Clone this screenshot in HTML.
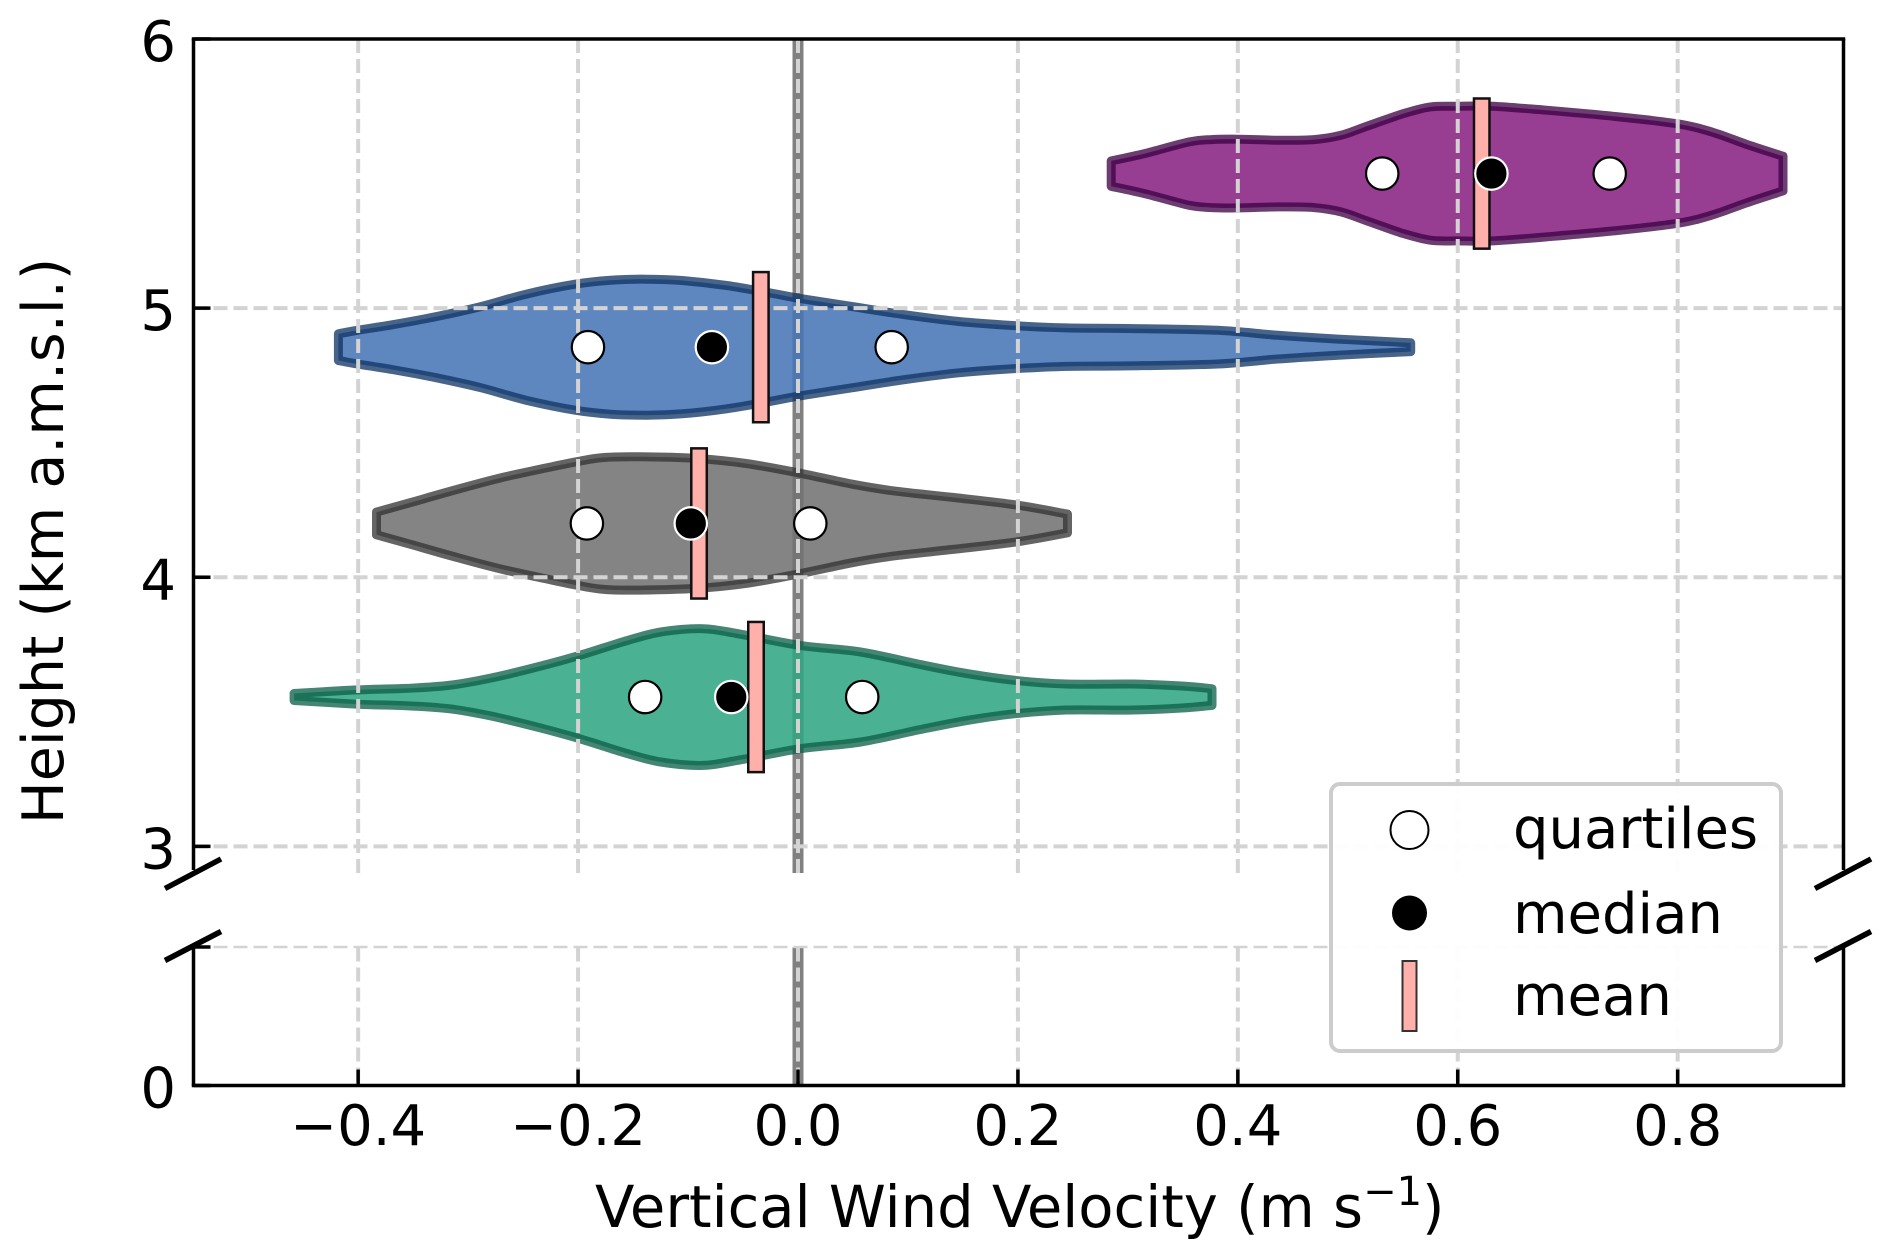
<!DOCTYPE html>
<html lang="en">
<head>
<meta charset="utf-8">
<title>Vertical Wind Velocity Violin Chart</title>
<style>
  html, body { margin: 0; padding: 0; background: #fff; }
  body { width: 1892px; height: 1258px; overflow: hidden; }
  svg { display: block; }
  text { font-family: "DejaVu Sans", "Liberation Sans", sans-serif; fill: #000; }
</style>
</head>
<body>
<svg id="chart" xmlns="http://www.w3.org/2000/svg" width="1892" height="1258" viewBox="0 0 1892 1258">
  <rect x="0" y="0" width="1892" height="1258" fill="#ffffff"/>
  <g id="zero-layer"></g>
  <g id="violin-layer"></g>
  <g id="grid-layer"></g>
  <g id="marker-layer"></g>
  <g id="axis-layer"></g>
  <text x="595" y="1227" font-size="57.6">Vertical Wind Velocity (m s<tspan font-size="40" dy="-22">−1</tspan><tspan dy="22">)</tspan></text>
  <text transform="translate(63 541) rotate(-90)" text-anchor="middle" font-size="57">Height (km a.m.s.l.)</text>
  <g>
    <rect x="1331" y="784" width="450" height="267" rx="9" ry="9" fill="#ffffff" fill-opacity="0.94" stroke="#cccccc" stroke-width="4"/>
    <circle cx="1409.5" cy="830" r="19" fill="#ffffff" stroke="#000000" stroke-width="2"/>
    <circle cx="1409.5" cy="913" r="17.5" fill="#000000"/>
    <rect x="1402.5" y="961" width="14" height="70" fill="#ffb0aa" stroke="#333333" stroke-width="2"/>
    <text x="1513" y="848" font-size="56">quartiles</text>
    <text x="1513" y="933" font-size="56">median</text>
    <text x="1513" y="1015" font-size="56">mean</text>
  </g>
</svg>
<script>
// ----- Tick data -----
const xTicks = [-0.4, -0.2, 0.0, 0.2, 0.4, 0.6, 0.8];
const xTickLabels = ["−0.4", "−0.2", "0.0", "0.2", "0.4", "0.6", "0.8"];
const yTicksUpper = [3, 4, 5, 6];
const yTickLabelsUpper = ["3", "4", "5", "6"];
const yTicksLower = [0, 1];
const yTickLabelsLower = ["0", ""];

// ----- Violin names and centre heights (km) -----
const violinNames = ["purple", "blue", "gray", "green"];
const violinHeights = [5.5, 4.855, 4.2, 3.555];

// ----- Violin profiles: velocity (m/s) and half-width (km) -----
const purpleVelocity = [0.2848, 0.3152, 0.3559, 0.3761, 0.4005, 0.4371, 0.4695, 0.4938, 0.5183, 0.5507, 0.5751, 0.5995, 0.6319, 0.6806, 0.7415, 0.7984, 0.8308, 0.8633, 0.8958];
const purpleHalfWidth = [0.0471, 0.0743, 0.1177, 0.1263, 0.1276, 0.1239, 0.1263, 0.1424, 0.1771, 0.2229, 0.2477, 0.2502, 0.2502, 0.2353, 0.213, 0.1858, 0.1548, 0.1078, 0.0644];

const blueVelocity = [-0.418, -0.4017, -0.3692, -0.3287, -0.288, -0.2474, -0.2028, -0.1703, -0.1379, -0.1054, -0.0648, -0.0242, 0.0002, 0.0489, 0.0977, 0.1464, 0.1951, 0.2444, 0.2993, 0.3815, 0.4364, 0.4912, 0.5572];
const blueHalfWidth = [0.0495, 0.0619, 0.083, 0.1139, 0.1511, 0.1969, 0.2341, 0.2489, 0.2527, 0.2477, 0.2291, 0.2006, 0.1821, 0.1511, 0.1201, 0.0954, 0.0805, 0.0715, 0.0695, 0.0625, 0.044, 0.03, 0.0164];

const grayVelocity = [-0.3833, -0.352, -0.3103, -0.2686, -0.2267, -0.2017, -0.1766, -0.1432, -0.0931, -0.0472, 0.0029, 0.0488, 0.0864, 0.1407, 0.1992, 0.2451];
const grayHalfWidth = [0.0421, 0.078, 0.1263, 0.1709, 0.2081, 0.2291, 0.2452, 0.2477, 0.2415, 0.2229, 0.1858, 0.1461, 0.1214, 0.0966, 0.0681, 0.0347];

const greenVelocity = [-0.4583, -0.4004, -0.3563, -0.3177, -0.2792, -0.2351, -0.1965, -0.158, -0.1249, -0.0864, -0.0533, 0.0018, 0.0569, 0.112, 0.1561, 0.2002, 0.2442, 0.3048, 0.3489, 0.3765];
const greenHalfWidth = [0.013, 0.0266, 0.0322, 0.0433, 0.0706, 0.1139, 0.1573, 0.2068, 0.2415, 0.2539, 0.2341, 0.192, 0.1672, 0.1201, 0.0855, 0.0607, 0.0483, 0.0483, 0.0409, 0.031];

// ----- Summary statistics, one entry per violin -----
const lowerQuartiles = [0.5313, -0.191, -0.192, -0.139];
const medians = [0.6306, -0.0783, -0.0975, -0.0607];
const upperQuartiles = [0.7382, 0.0852, 0.0112, 0.0584];
const means = [0.6218, -0.0338, -0.09, -0.0382];

// ----- Axis functions -----
function xScale(v) { return 798 + 1099.6 * v; }
function yScale(h) { return h >= 3 ? 846.4 - 269.13 * (h - 3) : 1085.5 - 138.5 * h; }

const SVGNS = "http://www.w3.org/2000/svg";
function make(tag, attrs, parent) {
  const node = document.createElementNS(SVGNS, tag);
  Object.keys(attrs).forEach(function (k) { node.setAttribute(k, attrs[k]); });
  parent.appendChild(node);
  return node;
}

const zeroLayer = document.getElementById("zero-layer");
const violinLayer = document.getElementById("violin-layer");
const gridLayer = document.getElementById("grid-layer");
const markerLayer = document.getElementById("marker-layer");
const axisLayer = document.getElementById("axis-layer");

const plotLeft = 193.5, plotRight = 1843.5, plotTop = yScale(6), plotBottom = yScale(0);
const upperEnd = 873, lowerStart = 947.5;

// ----- Zero reference line -----
[[plotTop, upperEnd], [lowerStart, plotBottom]].forEach(function (seg) {
  const z = make("line", { x1: xScale(0), x2: xScale(0), y1: seg[0], y2: seg[1], stroke: "#808080", "stroke-width": 11 }, zeroLayer);
  
  
});

// ----- Violins -----
const violinFill = ["#892282", "#4876b6", "#727272", "#31a684"];
const violinEdge = ["#3d0045", "#0f3364", "#333333", "#0b5f47"];
const violinVelocity = [purpleVelocity, blueVelocity, grayVelocity, greenVelocity];
const violinHalfWidth = [purpleHalfWidth, blueHalfWidth, grayHalfWidth, greenHalfWidth];

function smoothSegments(pts) {
  let d = "";
  for (let i = 0; i < pts.length - 1; i++) {
    const p0 = pts[Math.max(i - 1, 0)], p1 = pts[i], p2 = pts[i + 1], p3 = pts[Math.min(i + 2, pts.length - 1)];
    const c1x = p1[0] + (p2[0] - p0[0]) / 6, c1y = p1[1] + (p2[1] - p0[1]) / 6;
    const c2x = p2[0] - (p3[0] - p1[0]) / 6, c2y = p2[1] - (p3[1] - p1[1]) / 6;
    d += " C" + c1x.toFixed(1) + " " + c1y.toFixed(1) + " " + c2x.toFixed(1) + " " + c2y.toFixed(1) + " " + p2[0].toFixed(1) + " " + p2[1].toFixed(1);
  }
  return d;
}

violinNames.forEach(function (name, i) {
  const c = violinHeights[i];
  const top = violinVelocity[i].map(function (v, j) { return [xScale(v), yScale(c + violinHalfWidth[i][j])]; });
  const bottom = violinVelocity[i].map(function (v, j) { return [xScale(v), yScale(c - violinHalfWidth[i][j])]; }).reverse();
  const d = "M" + top[0][0].toFixed(1) + " " + top[0][1].toFixed(1) + smoothSegments(top) +
    " L" + bottom[0][0].toFixed(1) + " " + bottom[0][1].toFixed(1) + smoothSegments(bottom) + " Z";
  const p = make("path", {
    d: d, fill: violinFill[i], "fill-opacity": 0.875,
    stroke: violinEdge[i], "stroke-opacity": 0.76, "stroke-width": 9, "stroke-linejoin": "round"
  }, violinLayer);
  
  
});

// ----- Grid -----
xTicks.forEach(function (t) {
  [[plotTop, upperEnd], [lowerStart, plotBottom]].forEach(function (seg) {
    const g = make("line", { x1: xScale(t), x2: xScale(t), y1: seg[0], y2: seg[1], stroke: "#d3d3d3", "stroke-width": 4, "stroke-dasharray": "14 6" }, gridLayer);
    
    
  });
});
yTicksUpper.concat(yTicksLower).forEach(function (t) {
  if (t === 0 || t === 6) return;
  const g = make("line", { x1: plotLeft, x2: plotRight, y1: yScale(t), y2: yScale(t), stroke: "#d3d3d3", "stroke-width": t === 1 ? 2.5 : 4, "stroke-dasharray": "14 6" }, gridLayer);
  
  
});

// ----- Mean bars, quartiles, medians -----
const meanHalfHeight = 0.279;
const meanBarPixelWidth = 15.5;
violinNames.forEach(function (name, i) {
  const c = violinHeights[i];
  const bar = make("rect", {
    x: xScale(means[i]) - meanBarPixelWidth / 2, y: yScale(c + meanHalfHeight),
    width: meanBarPixelWidth, height: yScale(c - meanHalfHeight) - yScale(c + meanHalfHeight),
    fill: "#ffb0aa", stroke: "#111111", "stroke-width": 2.5
  }, markerLayer);
  
  

  const q1 = make("circle", { cx: xScale(lowerQuartiles[i]), cy: yScale(c), r: 16.2, fill: "#ffffff", stroke: "#000000", "stroke-width": 2.2 }, markerLayer);
  
  

  const q3 = make("circle", { cx: xScale(upperQuartiles[i]), cy: yScale(c), r: 16.2, fill: "#ffffff", stroke: "#000000", "stroke-width": 2.2 }, markerLayer);
  
  

  const med = make("circle", { cx: xScale(medians[i]), cy: yScale(c), r: 16.2, fill: "#000000", stroke: "#ffffff", "stroke-width": 2.2 }, markerLayer);
  
  
});

// ----- Spines -----
const spineTop = make("line", { x1: plotLeft - 1.75, x2: plotRight + 1.75, y1: plotTop, y2: plotTop, stroke: "#000", "stroke-width": 3.5 }, axisLayer);



const spineBottom = make("line", { x1: plotLeft - 1.75, x2: plotRight + 1.75, y1: plotBottom, y2: plotBottom, stroke: "#000", "stroke-width": 3.5 }, axisLayer);



[plotLeft, plotRight].forEach(function (x) {
  const upper = make("line", { x1: x, x2: x, y1: plotTop, y2: 870, stroke: "#000", "stroke-width": 3.5 }, axisLayer);
  
  

  const lower = make("line", { x1: x, x2: x, y1: 947, y2: plotBottom, stroke: "#000", "stroke-width": 3.5 }, axisLayer);
  
  

  const off = x === plotLeft ? 0 : plotRight - plotLeft;
  const b1 = make("line", { x1: 165 + off, y1: 888.5, x2: 221 + off, y2: 859, stroke: "#000", "stroke-width": 5.5 }, axisLayer);
  
  

  const b2 = make("line", { x1: 165 + off, y1: 960.5, x2: 221 + off, y2: 931.5, stroke: "#000", "stroke-width": 5.5 }, axisLayer);
  
  
});

// ----- X ticks -----
xTicks.forEach(function (t, i) {
  const tick = make("line", { x1: xScale(t), x2: xScale(t), y1: plotBottom, y2: plotBottom - 16, stroke: "#000", "stroke-width": 3.5 }, axisLayer);
  
  

  const label = make("text", { x: xScale(t), y: 1145, "text-anchor": "middle", "font-size": 56 }, axisLayer);
  label.textContent = xTickLabels[i];
  
  
});

// ----- Y ticks -----
yTicksUpper.concat(yTicksLower).forEach(function (t, i) {
  const text = yTickLabelsUpper.concat(yTickLabelsLower)[i];
  const tick = make("line", { x1: plotLeft, x2: plotLeft + 17, y1: yScale(t), y2: yScale(t), stroke: "#000", "stroke-width": 3.5 }, axisLayer);
  
  
  if (text) {
    const label = make("text", { x: 176, y: yScale(t) + 22, "text-anchor": "end", "font-size": 56 }, axisLayer);
    label.textContent = text;
    
    
  }
});
</script>
</body>
</html>
